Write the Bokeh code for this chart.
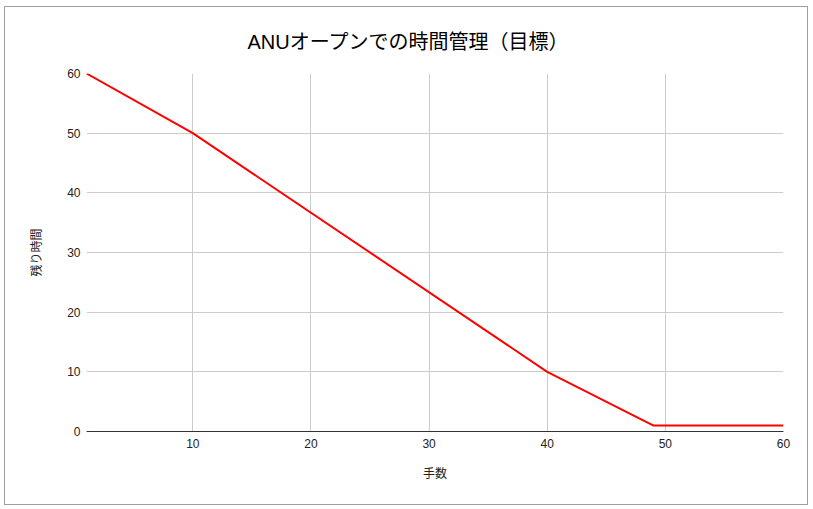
from bokeh.plotting import figure
from bokeh.embed import file_html
from bokeh.resources import INLINE
from bokeh.models import FixedTicker, Range1d

moves = [1, 10, 40, 49, 60]
remaining = [60, 50, 10, 1, 1]
x_ticks = [10, 20, 30, 40, 50, 60]
y_ticks = [0, 10, 20, 30, 40, 50, 60]

FONT = "'Liberation Sans', Arial, 'Noto Sans CJK JP', sans-serif"

p = figure(width=804, height=499, output_backend="svg", toolbar_location=None,
           x_range=Range1d(1, 60), y_range=Range1d(0, 60),
           min_border_left=81, min_border_right=26, min_border_top=66, min_border_bottom=75,
           title="ANUオープンでの時間管理（目標）")
p.styles = {"border": "1px solid #9e9e9e", "margin-left": "4px", "margin-top": "6px"}
p.outline_line_color = None
p.background_fill_color = "white"
p.border_fill_color = "white"

p.title.align = "left"
p.title.offset = 161
p.title.text_font = FONT
p.title.text_font_size = "20px"
p.title.text_font_style = "normal"
p.title.text_color = "#000000"
p.title.vertical_align = "top"
p.title.standoff = 38

p.line(moves, remaining, line_color="#ff0000", line_width=2)

p.xaxis.ticker = FixedTicker(ticks=x_ticks)
p.yaxis.ticker = FixedTicker(ticks=y_ticks)
p.xgrid.ticker = FixedTicker(ticks=x_ticks)
p.ygrid.ticker = FixedTicker(ticks=y_ticks)
p.xgrid.grid_line_color = "#cccccc"
p.ygrid.grid_line_color = "#cccccc"

for ax in (p.xaxis, p.yaxis):
    ax.major_tick_line_color = None
    ax.minor_tick_line_color = None
    ax.major_label_text_font = FONT
    ax.major_label_text_font_size = "12px"
    ax.major_label_text_color = "#222222"
    ax.axis_label_text_font = FONT
    ax.axis_label_text_font_size = "12px"
    ax.axis_label_text_font_style = "normal"
    ax.axis_label_text_color = "#222222"

p.xaxis.axis_line_color = "#333333"
p.yaxis.axis_line_color = None
p.xaxis.axis_label = "手数"
p.yaxis.axis_label = "残り時間"
p.xaxis.major_label_standoff = 1
p.yaxis.major_label_standoff = 0
p.xaxis.axis_label_standoff = 16
p.yaxis.axis_label_standoff = 20

open("out.html", "w").write(file_html(p, INLINE))
